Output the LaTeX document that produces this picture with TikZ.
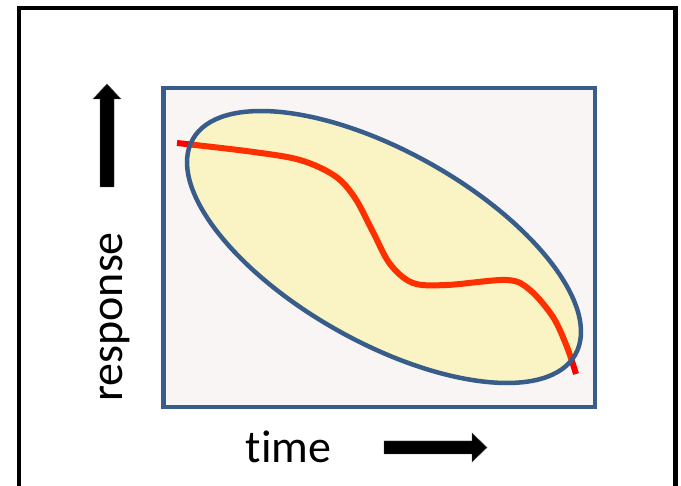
\documentclass[tikz,border=0pt]{standalone}
\usepackage{fontspec}
\setmainfont{Carlito}[Ligatures=NoCommon]
\definecolor{frameblue}{RGB}{56,93,138}
\definecolor{panelfill}{RGB}{249,245,245}
\definecolor{curvered}{RGB}{255,0,0}
\tikzset{
  panel/.style={draw=frameblue, line width=4.5pt, fill=panelfill},
  cloud/.style={draw=frameblue, line width=4.5pt, fill=yellow, fill opacity=0.2, draw opacity=1},
  trend/.style={draw=curvered, line width=6pt},
  bigarrow/.style={fill=black, draw=black!70, line width=0.4pt},
  axislabel/.style={inner sep=0pt, font=\fontsize{46}{50}\selectfont},
}
\begin{document}
\begin{tikzpicture}[x=1pt, y=-1pt]
  \useasboundingbox (0,0) rectangle (681,486);
  % outer frame
  \draw[black, line width=4.5pt] (19,8) rectangle (675.5,488);
  % plot panel
  \draw[panel] (163.5,88) rectangle (595,407);
  % response curve
  \draw[trend] plot[smooth, tension=0.55] coordinates {
    (177,143) (250,151.5) (300,160) (335,176) (355,198) (373,232)
    (390,264) (413,283) (447,285) (507,280) (530,290) (553,317)
    (567,347) (576,374)};
  % scatter envelope
  \path[cloud, shift={(384,247)}, rotate=-29.35]
    (0,0) ellipse [x radius=219.5pt, y radius=95.4pt];
  % axis arrows
  \fill[bigarrow] (100,187) -- (100,99) -- (93,99) -- (107,84) -- (121,99)
    -- (114,99) -- (114,187) -- cycle;
  \fill[bigarrow] (384,441) -- (472,441) -- (472,433) -- (487,447.5)
    -- (472,462) -- (472,454) -- (384,454) -- cycle;
  % axis labels
  \node[axislabel, rotate=90, anchor=base] (ylab) at (122,317) {response};
  \node[axislabel, anchor=base] (xlab) at (288.5,463) {time};
\end{tikzpicture}
\end{document}
